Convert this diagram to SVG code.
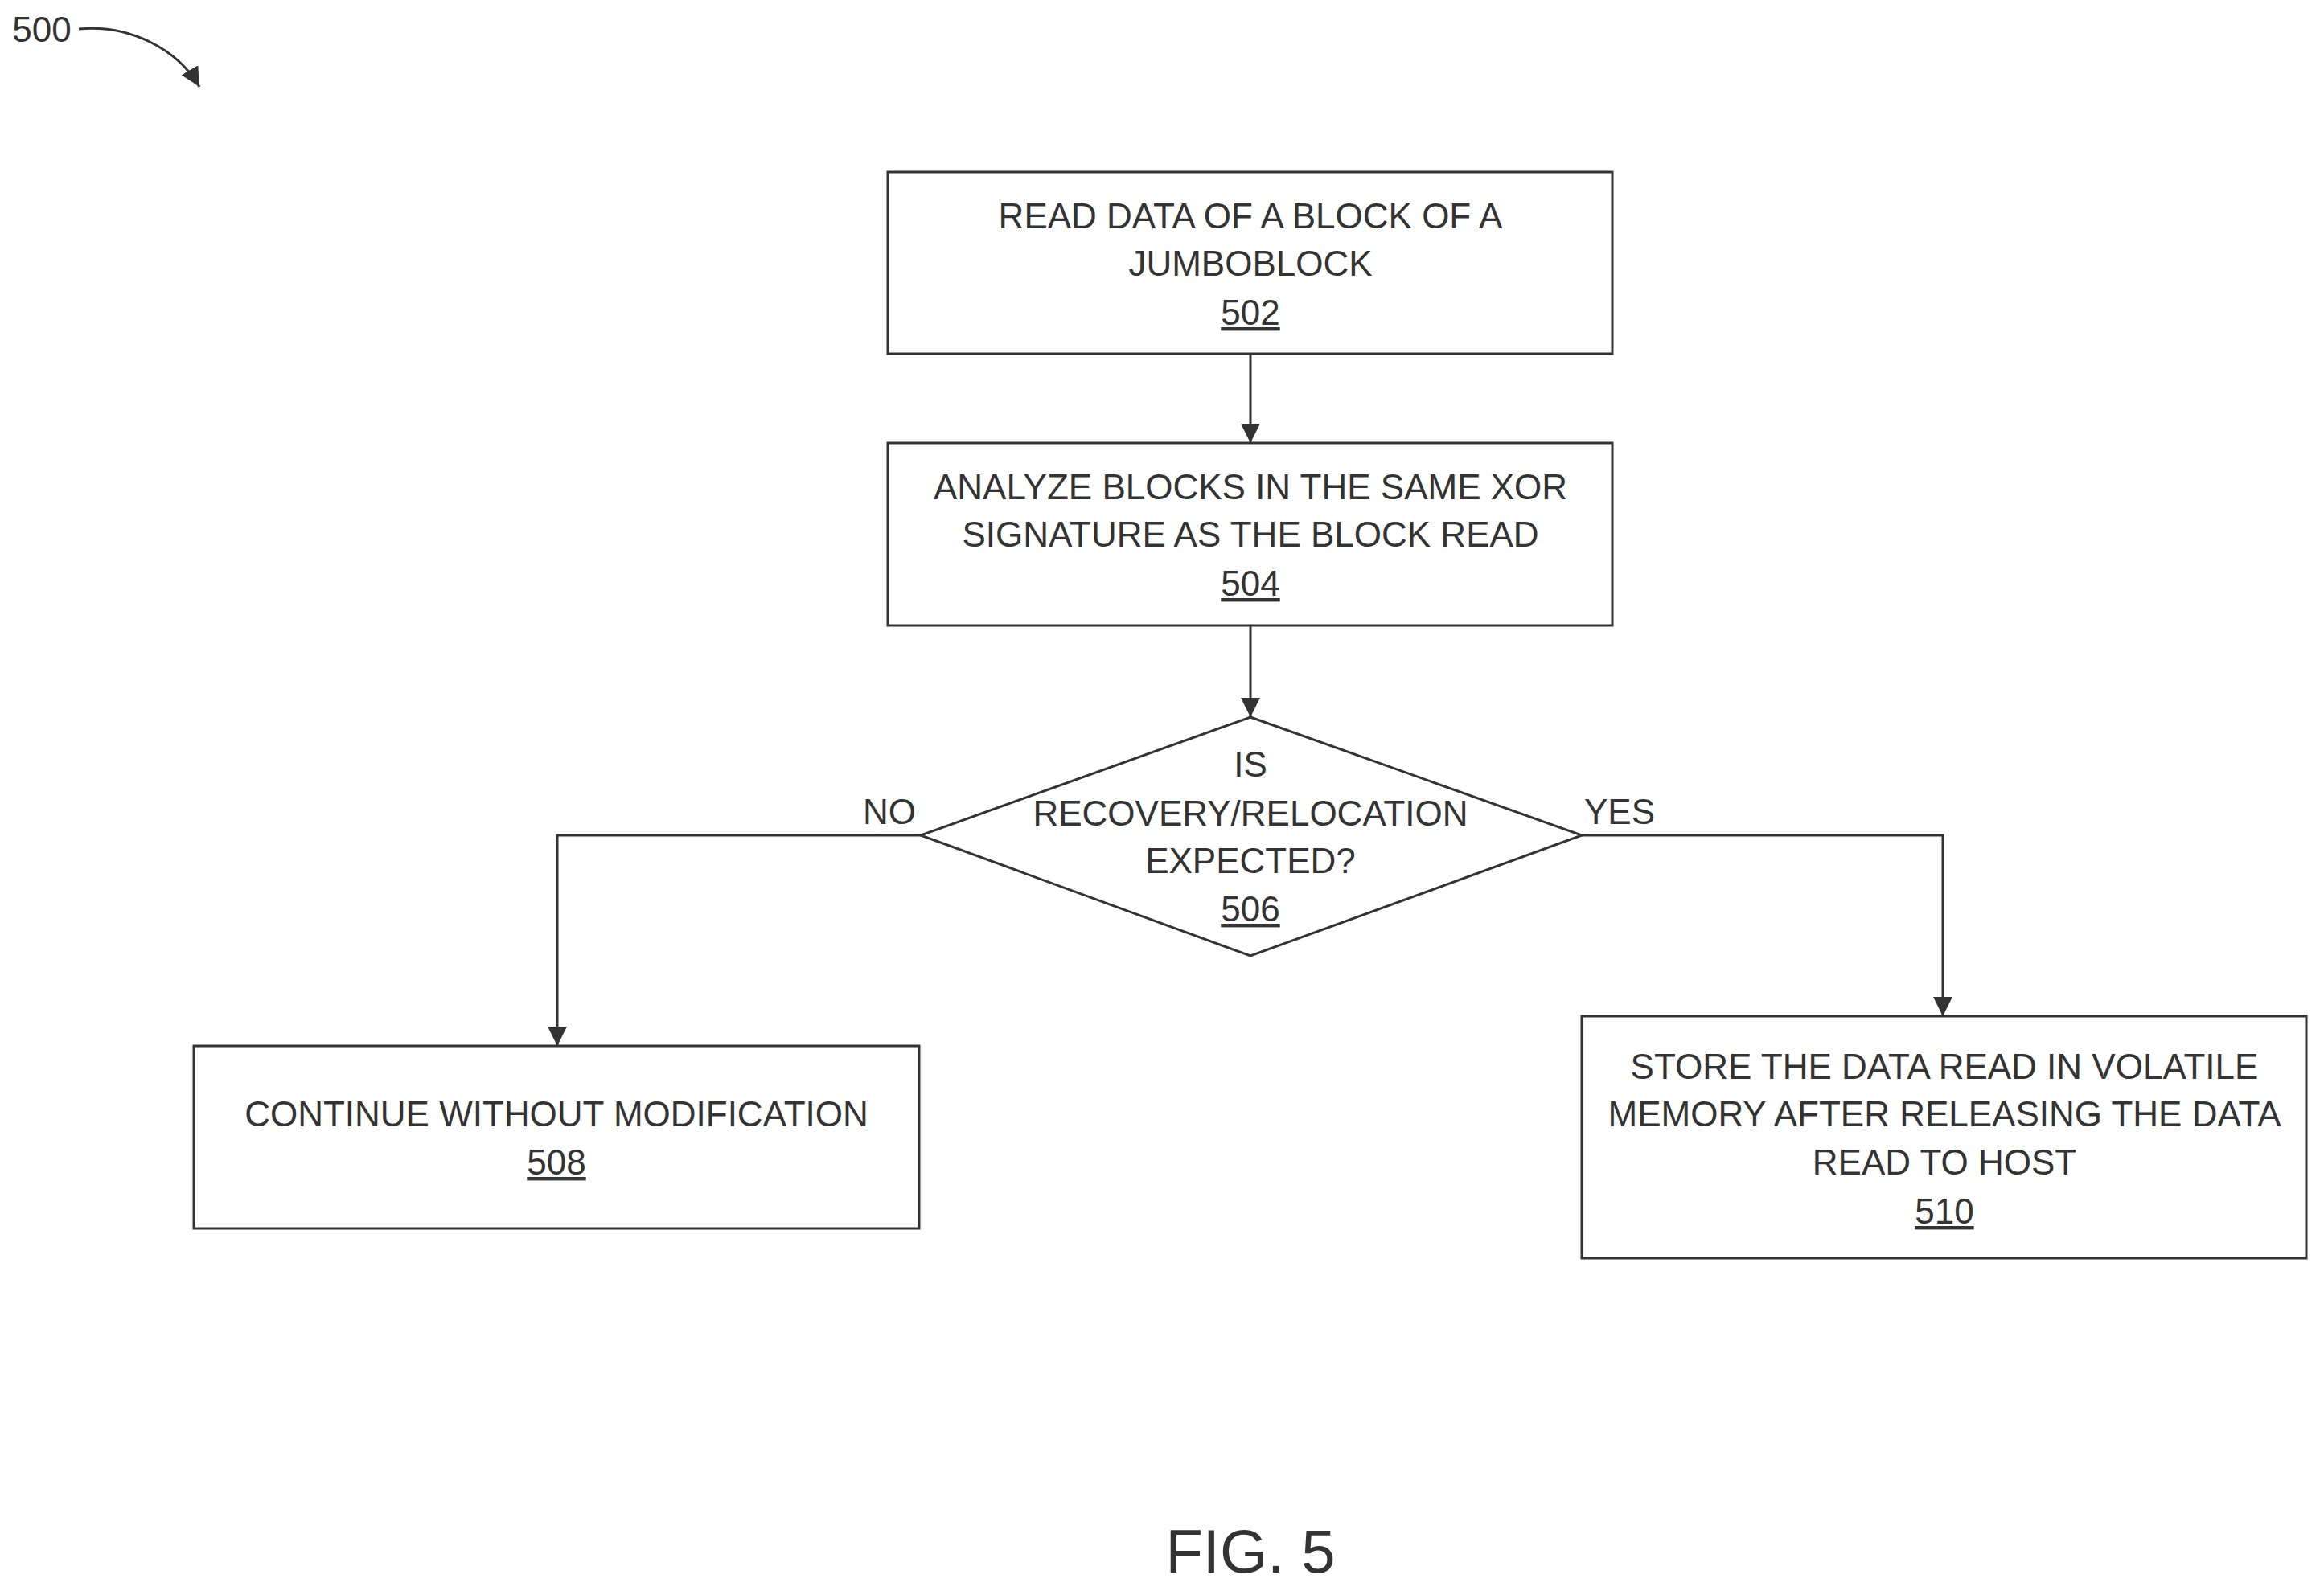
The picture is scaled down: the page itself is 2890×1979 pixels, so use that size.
<svg xmlns="http://www.w3.org/2000/svg" width="2890" height="1979" viewBox="0 0 2890 1979">
<style>
.b{fill:#fff;stroke:#333;stroke-width:3}
.c{fill:none;stroke:#333;stroke-width:3}
text{font-family:"Liberation Sans",Arial,sans-serif;font-size:44px;fill:#333;text-anchor:middle}
.u{text-decoration:underline}
</style>
<defs><marker id="a" viewBox="0 0 10 10" refX="10" refY="5" markerWidth="24" markerHeight="24" markerUnits="userSpaceOnUse" orient="auto"><path d="M0,0L10,5L0,10z" fill="#333"/></marker></defs>
<rect width="2890" height="1979" fill="#fff"/>
<g id="label500"><text x="52" y="52" style="text-anchor:middle">500</text>
<path class="c" d="M98,36 C160,30 220,60 248,108" marker-end="url(#a)"/></g>
<g id="n502"><rect class="b" x="1104" y="214" width="901" height="226"/>
<text x="1555" y="284">READ DATA OF A BLOCK OF A</text><text x="1555" y="343">JUMBOBLOCK</text><text class="u" x="1555" y="404">502</text></g>
<g id="n504"><rect class="b" x="1104" y="551" width="901" height="227"/>
<text x="1555" y="621">ANALYZE BLOCKS IN THE SAME XOR</text><text x="1555" y="680">SIGNATURE AS THE BLOCK READ</text><text class="u" x="1555" y="741">504</text></g>
<g id="n506"><polygon class="b" points="1555,892 1967,1039 1555,1189 1145,1039"/>
<text x="1555" y="966">IS</text><text x="1555" y="1027">RECOVERY/RELOCATION</text><text x="1555" y="1086">EXPECTED?</text><text class="u" x="1555" y="1146">506</text></g>
<g id="n508"><rect class="b" x="241" y="1301" width="902" height="227"/>
<text x="692" y="1401">CONTINUE WITHOUT MODIFICATION</text><text class="u" x="692" y="1461">508</text></g>
<g id="n510"><rect class="b" x="1967" y="1264" width="901" height="301"/>
<text x="2418" y="1342">STORE THE DATA READ IN VOLATILE</text><text x="2418" y="1401">MEMORY AFTER RELEASING THE DATA</text><text x="2418" y="1461">READ TO HOST</text><text class="u" x="2418" y="1522">510</text></g>
<g id="connectors">
<path class="c" d="M1555,440V551" marker-end="url(#a)"/>
<path class="c" d="M1555,778V892" marker-end="url(#a)"/>
<path class="c" d="M1145,1039H693V1301" marker-end="url(#a)"/>
<path class="c" d="M1967,1039H2416V1264" marker-end="url(#a)"/>
<text x="1106" y="1025">NO</text><text x="2014" y="1025">YES</text>
</g>
<text x="1555" y="1956" style="font-size:76px">FIG. 5</text>
</svg>
